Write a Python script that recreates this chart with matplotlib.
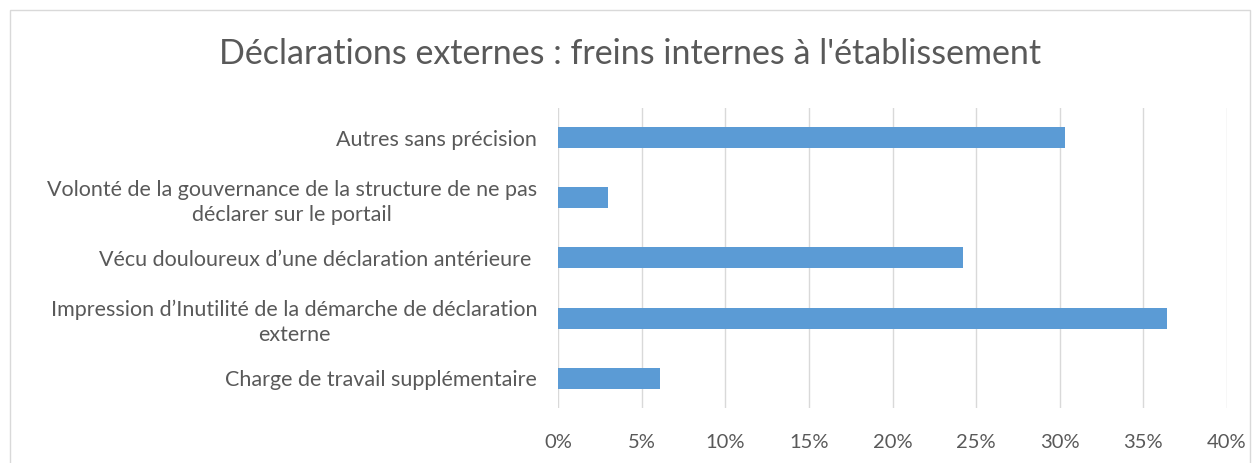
import matplotlib.pyplot as plt
from matplotlib.patches import Rectangle
from matplotlib.ticker import FuncFormatter

plt.rcParams['font.family'] = ['Lato', 'DejaVu Sans']

# top to bottom, as shown
categories = [
    "Autres sans précision",
    "Volonté de la gouvernance de la structure de ne pas\ndéclarer sur le portail",
    "Vécu douloureux d\u2019une déclaration antérieure ",
    "Impression d\u2019Inutilité de la démarche de déclaration\nexterne",
    "Charge de travail supplémentaire",
]
values = [30.3, 3.0, 24.2, 36.4, 6.1]
xticks = [0, 5, 10, 15, 20, 25, 30, 35, 40]
title = "Déclarations externes : freins internes à l'établissement"

grey = "#595959"

fig = plt.figure(figsize=(12.6, 4.63), dpi=100)
fig.patches.append(Rectangle((10 / 1260, -0.1), 1240 / 1260, 1.1 - 10 / 463,
                             transform=fig.transFigure, fill=False,
                             edgecolor="#d9d9d9", linewidth=1))
ax = fig.add_axes([558 / 1260, 1 - 408 / 463, 669 / 1260, 300 / 463])

ypos = list(range(len(categories)))
ax.barh(ypos, values, height=0.35, color="#5b9bd5", zorder=3)
ax.set_ylim(len(categories) - 0.5, -0.5)
ax.set_xlim(0, 40)
ax.set_xticks(xticks)
ax.xaxis.set_major_formatter(FuncFormatter(lambda v, p: "{:d}%".format(int(v))))
ax.set_yticks(ypos)
ax.set_yticklabels(categories, multialignment="center", linespacing=1.3)

ax.grid(axis="x", color="#d9d9d9", linewidth=1, zorder=0)
for s in ax.spines.values():
    s.set_visible(False)
ax.tick_params(axis="x", length=0, colors=grey, labelsize=14.5, pad=19)
ax.tick_params(axis="y", length=0, colors=grey, labelsize=15.5, pad=15)

fig.text(0.5, 1 - 54 / 463, title, ha="center", va="center",
         fontsize=24.5, color=grey)

fig.savefig("out.png", dpi=100)
